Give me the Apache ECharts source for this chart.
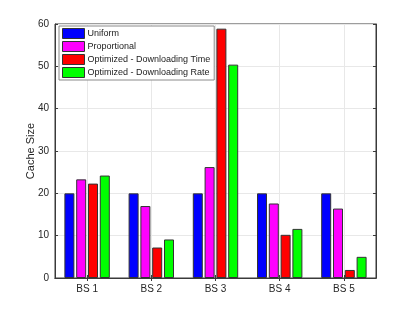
<!DOCTYPE html>
<html><head><meta charset="utf-8">
<script src="https://cdn.jsdelivr.net/npm/echarts@6/dist/echarts.min.js"></script>
<style>html,body{margin:0;padding:0;background:#fff}#c{width:415px;height:312px}</style>
</head><body><div id="c"></div>
<script>
const categories = ['BS 1','BS 2','BS 3','BS 4','BS 5'];
const seriesNames = ['Uniform','Proportional','Optimized - Downloading Time','Optimized - Downloading Rate'];
const uniform = [20, 20, 20, 20, 20];
const proportional = [23.3, 17.0, 26.2, 17.6, 16.4];
const optTime = [22.3, 7.2, 58.9, 10.2, 1.9];
const optRate = [24.2, 9.1, 50.4, 11.6, 5.0];
const yTicks = [0, 10, 20, 30, 40, 50, 60];
const colors = ['#0000ff','#ff00ff','#ff0000','#00ff00'];
const dataSets = [uniform, proportional, optTime, optRate];

const font = 'Liberation Sans, Arial, sans-serif';
const chart = echarts.init(document.getElementById('c'));
chart.setOption({
  animation: false,
  backgroundColor: '#fff',
  grid: { left: 55, right: 39, top: 24, bottom: 34, show: true, borderColor: '#3a3a3a', borderWidth: 1, backgroundColor: 'transparent' },
  legend: {
    orient: 'vertical', left: 59, top: 26,
    data: seriesNames,
    itemWidth: 22, itemHeight: 10, itemGap: 2,
    padding: [2, 4, 2, 3],
    backgroundColor: '#fff', borderColor: '#8a8a8a', borderWidth: 1,
    textStyle: { fontFamily: font, fontSize: 9, color: '#222', padding: [0, 0, 0, -2] },
    itemStyle: { borderColor: '#333', borderWidth: 1 },
    icon: 'rect'
  },
  xAxis: [{
    type: 'category', data: categories,
    axisLine: { show: true, lineStyle: { color: '#3a3a3a' } },
    axisTick: { show: true, inside: true, alignWithLabel: true, length: 3, lineStyle: { color: '#3a3a3a' } },
    axisLabel: { fontFamily: font, fontSize: 10, color: '#262626', margin: 6 },
    splitLine: { show: true, alignWithLabel: true, lineStyle: { color: '#e8e8e8' } }
  }, {
    type: 'category', data: categories, position: 'top',
    axisLine: { show: true, lineStyle: { color: '#3a3a3a' } },
    axisTick: { show: true, inside: true, alignWithLabel: true, length: 3, lineStyle: { color: '#3a3a3a' } },
    axisLabel: { show: false }, splitLine: { show: false }
  }],
  yAxis: [{
    type: 'value', min: 0, max: 60, interval: 10,
    name: 'Cache Size', nameLocation: 'middle', nameGap: 19, nameRotate: 90,
    nameMoveOverlap: false,
    nameTextStyle: { fontFamily: font, fontSize: 11, color: '#262626' },
    axisLine: { show: true, lineStyle: { color: '#3a3a3a' } },
    axisTick: { show: true, inside: true, length: 3, lineStyle: { color: '#3a3a3a' } },
    axisLabel: { fontFamily: font, fontSize: 10, color: '#262626', margin: 6,
      formatter: v => yTicks.includes(v) ? String(v) : '' },
    splitLine: { show: true, lineStyle: { color: '#e8e8e8' } }
  }, {
    type: 'value', min: 0, max: 60, interval: 10, position: 'right',
    axisLine: { show: true, lineStyle: { color: '#3a3a3a' } },
    axisTick: { show: true, inside: true, length: 3, lineStyle: { color: '#3a3a3a' } },
    axisLabel: { show: false }, splitLine: { show: false }
  }],
  series: dataSets.map((d, i) => ({
    name: seriesNames[i], type: 'bar', data: d,
    xAxisIndex: 0, yAxisIndex: 0,
    barWidth: 10, barGap: '18%',
    itemStyle: { color: colors[i], borderColor: '#333', borderWidth: 1 }
  }))
});
</script></body></html>
